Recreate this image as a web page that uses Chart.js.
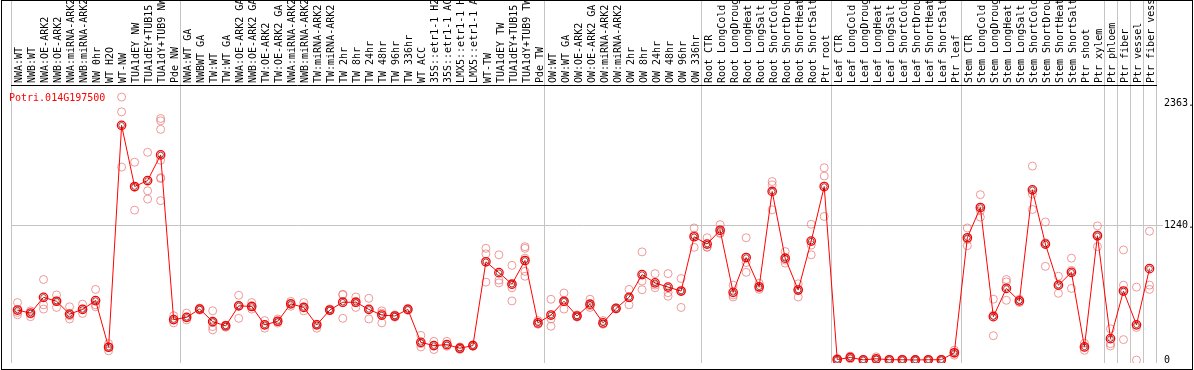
<!DOCTYPE html>
<html lang="en">
<head>
  <meta charset="UTF-8">
  <title>Potri.014G197500</title>
  <script src="https://cdn.jsdelivr.net/npm/chart.js"></script>
  <style>
    html, body { margin: 0; padding: 0; background: #fff; }
    canvas { display: block; }
  </style>
</head>
<body>
  <canvas id="chart" width="1194" height="370"></canvas>

  <script>
    const geneName = "Potri.014G197500";

    const labels = [
      "NWA:WT", "NWB:WT", "NWA:OE-ARK2", "NWB:OE-ARK2", "NWA:miRNA-ARK2", "NWB:miRNA-ARK2",
      "NW 0hr", "WT H2O", "WT-NW", "TUA1dEY NW", "TUA1dEY+TUB15 NW", "TUA1dY+TUB9 NW", "Pde NW",
      "NWA:WT GA", "NWBWT GA", "TW:WT", "TW:WT GA", "NWA:OE-ARK2 GA", "NWB:OE-ARK2 GA",
      "TW:OE-ARK2", "TW:OE-ARK2 GA", "NWA:miRNA-ARK2 GA", "NWB:miRNA-ARK2 GA", "TW:miRNA-ARK2",
      "TW:miRNA-ARK2 GA", "TW 2hr", "TW 8hr", "TW 24hr", "TW 48hr", "TW 96hr", "TW 336hr",
      "WT ACC", "35S::etr1-1 H2O", "35S::etr1-1 ACC", "LMX5::etr1-1 H2O", "LMX5::etr1-1 ACC",
      "WT-TW", "TUA1dEY TW", "TUA1dEY+TUB15 TW", "TUA1dY+TUB9 TW", "Pde TW",
      "OW:WT", "OW:WT GA", "OW:OE-ARK2", "OW:OE-ARK2 GA", "OW:miRNA-ARK2", "OW:miRNA-ARK2 GA",
      "OW 2hr", "OW 8hr", "OW 24hr", "OW 48hr", "OW 96hr", "OW 336hr",
      "Root CTR", "Root LongCold", "Root LongDrought", "Root LongHeat", "Root LongSalt",
      "Root ShortCold", "Root ShortDrought", "Root ShortHeat", "Root ShortSalt", "Ptr root",
      "Leaf CTR", "Leaf LongCold", "Leaf LongDrought", "Leaf LongHeat", "Leaf LongSalt",
      "Leaf ShortCold", "Leaf ShortDrought", "Leaf ShortHeat", "Leaf ShortSalt", "Ptr leaf",
      "Stem CTR", "Stem LongCold", "Stem LongDrought", "Stem LongHeat", "Stem LongSalt",
      "Stem ShortCold", "Stem ShortDrought", "Stem ShortHeat", "Stem ShortSalt", "Ptr shoot",
      "Ptr xylem", "Ptr phloem", "Ptr fiber", "Ptr vessel", "Ptr fiber vessel"
    ];

    // mean expression per sample
    const means = [
      460, 432, 577, 541, 423, 466, 547, 118, 2159, 1596, 1651, 1887, 372,
      393, 469, 354, 314, 499, 493, 324, 357, 517, 484, 324, 460, 532, 532, 466, 414, 405, 466,
      163, 133, 142, 109, 133, 904, 804, 698, 916, 342,
      414, 541, 405, 514, 342, 475, 577, 786, 710, 671, 635, 1134,
      1067, 1194, 623, 943, 674, 1551, 937, 644, 1094, 1596,
      5, 24, 2, 12, 3, 3, 1, 3, 3, 67,
      1125, 1403, 399, 659, 544, 1566, 1067, 689, 807, 121,
      1143, 197, 635, 324, 841
    ];

    // individual replicates per sample
    const replicates = [
      [529, 438, 417], [453, 423, 399], [741, 508, 469], [599, 544, 484], [490, 408, 378],
      [514, 469, 429], [650, 508, 490], [151, 121, 85], [2419, 2283, 1775], [1820, 1590, 1379],
      [1911, 1557, 1481], [2222, 2201, 2122, 1838, 1678, 1670, 1466], [408, 372, 342],
      [432, 393, 369], [478, 469, 460], [453, 348, 308, 278], [320, 317, 302], [596, 499, 384],
      [529, 493, 469], [363, 324, 293], [378, 357, 340], [540, 517, 495], [529, 484, 453],
      [330, 324, 293], [470, 455, 455], [605, 600, 384], [580, 529, 484], [568, 466, 378],
      [453, 432, 342], [415, 405, 395], [475, 466, 458],
      [227, 151, 121], [172, 133, 97], [172, 142, 127], [121, 109, 97], [140, 133, 128],
      [1028, 977, 717], [968, 735, 710], [871, 695, 665, 544], [1043, 1028, 937, 816, 771],
      [363, 333, 330],
      [559, 378, 311], [617, 537, 469], [415, 405, 395], [559, 500, 484], [363, 333, 330],
      [480, 475, 470], [650, 575, 508], [995, 726, 647], [795, 689, 665], [795, 620, 587],
      [750, 635, 484], [1215, 1150, 1037],
      [1125, 1040, 1037], [1246, 1172, 1164], [689, 599, 580], [1125, 897, 807], [707, 665, 650],
      [1642, 1612, 1382], [998, 920, 892], [701, 650, 580], [1249, 1058, 968], [1769, 1693, 1321],
      [15, 0, 0], [36, 24, 10], [5, 0, 0], [30, 5, 0], [5, 2, 2],
      [6, 2, 0], [3, 0, 0], [5, 3, 0], [5, 3, 0], [91, 67, 45],
      [1215, 1108, 1052], [1521, 1373, 1315], [560, 413, 224], [741, 719, 550], [559, 544, 529],
      [1784, 1527, 1385], [1270, 1079, 862], [771, 689, 614], [937, 825, 659], [155, 115, 90],
      [1234, 1152, 1043], [288, 151, 130], [1013, 689, 188], [671, 300, 0], [1185, 689, 650]
    ];

    // first sample index of each group (grey separators)
    const groupStarts = [0, 13, 41, 53, 63, 73, 84, 85, 86, 87, 88];

    const yTicks = [0, 1240, 2363];
    const yTickLabels = ["0", "1240.", "2363."];

    const mono = "'DejaVu Sans Mono', 'Liberation Mono', monospace";

    const maxReps = Math.max(...replicates.map(r => r.length));
    const repSets = [];
    for (let k = 0; k < maxReps; k++) {
      repSets.push({
        label: "rep" + (k + 1),
        data: replicates.map(r => (r[k] === undefined ? null : r[k])),
        showLine: false,
        pointRadius: 4,
        pointBorderWidth: 1,
        pointBorderColor: "rgba(232,120,120,0.75)",
        pointBackgroundColor: "rgba(0,0,0,0)",
        order: 3
      });
    }

    const groupLines = {
      id: "groupLines",
      beforeDraw(chart) {
        const x = chart.scales.x;
        const ctx = chart.ctx;
        const half = (x.getPixelForValue(1) - x.getPixelForValue(0)) / 2;
        ctx.save();
        ctx.strokeStyle = "#c4c4c4";
        ctx.lineWidth = 1;
        groupStarts.forEach(g => {
          const px = Math.round(x.getPixelForValue(Math.min(g, labels.length - 1)) + (g >= labels.length ? half : -half)) + 0.5;
          ctx.beginPath();
          ctx.moveTo(px, 0);
          ctx.lineTo(px, chart.chartArea.bottom);
          ctx.stroke();
        });
        ctx.restore();
      }
    };

    const frame = {
      id: "frame",
      afterDraw(chart) {
        const ctx = chart.ctx;
        ctx.save();
        ctx.fillStyle = "#ff0000";
        ctx.font = "10px " + mono;
        ctx.textBaseline = "alphabetic";
        ctx.fillText(geneName, chart.chartArea.left - 2, chart.chartArea.top + 16);
        ctx.strokeStyle = "#000";
        ctx.lineWidth = 1;
        ctx.strokeRect(1.5, 0.5, chart.width - 3, chart.height - 1);
        ctx.restore();
      }
    };

    new Chart(document.getElementById("chart"), {
      type: "line",
      data: {
        labels: labels,
        datasets: [
          {
            label: "inner",
            data: means,
            showLine: false,
            pointRadius: 2.8,
            pointBorderWidth: 1,
            pointBorderColor: "rgba(90,0,0,0.7)",
            pointBackgroundColor: "rgba(0,0,0,0)",
            order: 1
          },
          {
            label: "mean",
            data: means,
            borderColor: "#ff0000",
            borderWidth: 1,
            tension: 0,
            pointRadius: 4.2,
            pointBorderWidth: 1.3,
            pointBorderColor: "#ff0000",
            pointBackgroundColor: "rgba(0,0,0,0)",
            order: 2
          },
          ...repSets
        ]
      },
      options: {
        responsive: false,
        animation: false,
        devicePixelRatio: 1,
        layout: { padding: { left: 11, right: 0, top: 0, bottom: 1 } },
        plugins: {
          legend: { display: false },
          tooltip: { enabled: false }
        },
        scales: {
          x: {
            type: "category",
            position: "top",
            offset: true,
            grid: { display: false, drawTicks: false },
            border: { display: true, color: "#000", width: 1 },
            ticks: {
              autoSkip: false,
              minRotation: 90,
              maxRotation: 90,
              padding: 2,
              labelOffset: 14,
              color: "#000",
              font: { family: mono, size: 10 }
            },
            afterFit(scale) { scale.height = 85; }
          },
          y: {
            position: "right",
            min: -27,
            max: 2530,
            afterBuildTicks(scale) { scale.ticks = yTicks.map(v => ({ value: v })); },
            grid: {
              color: c => (c.tick && c.tick.value === 1240 ? "#c4c4c4" : "rgba(0,0,0,0)"),
              drawTicks: true,
              tickLength: 7
            },
            border: { display: false },
            ticks: {
              padding: 1,
              color: "#000",
              font: { family: mono, size: 10 },
              callback: (v, i) => yTickLabels[i]
            },
            afterFit(scale) { scale.width = 38; }
          }
        }
      },
      plugins: [groupLines, frame]
    });
  </script>
</body>
</html>
